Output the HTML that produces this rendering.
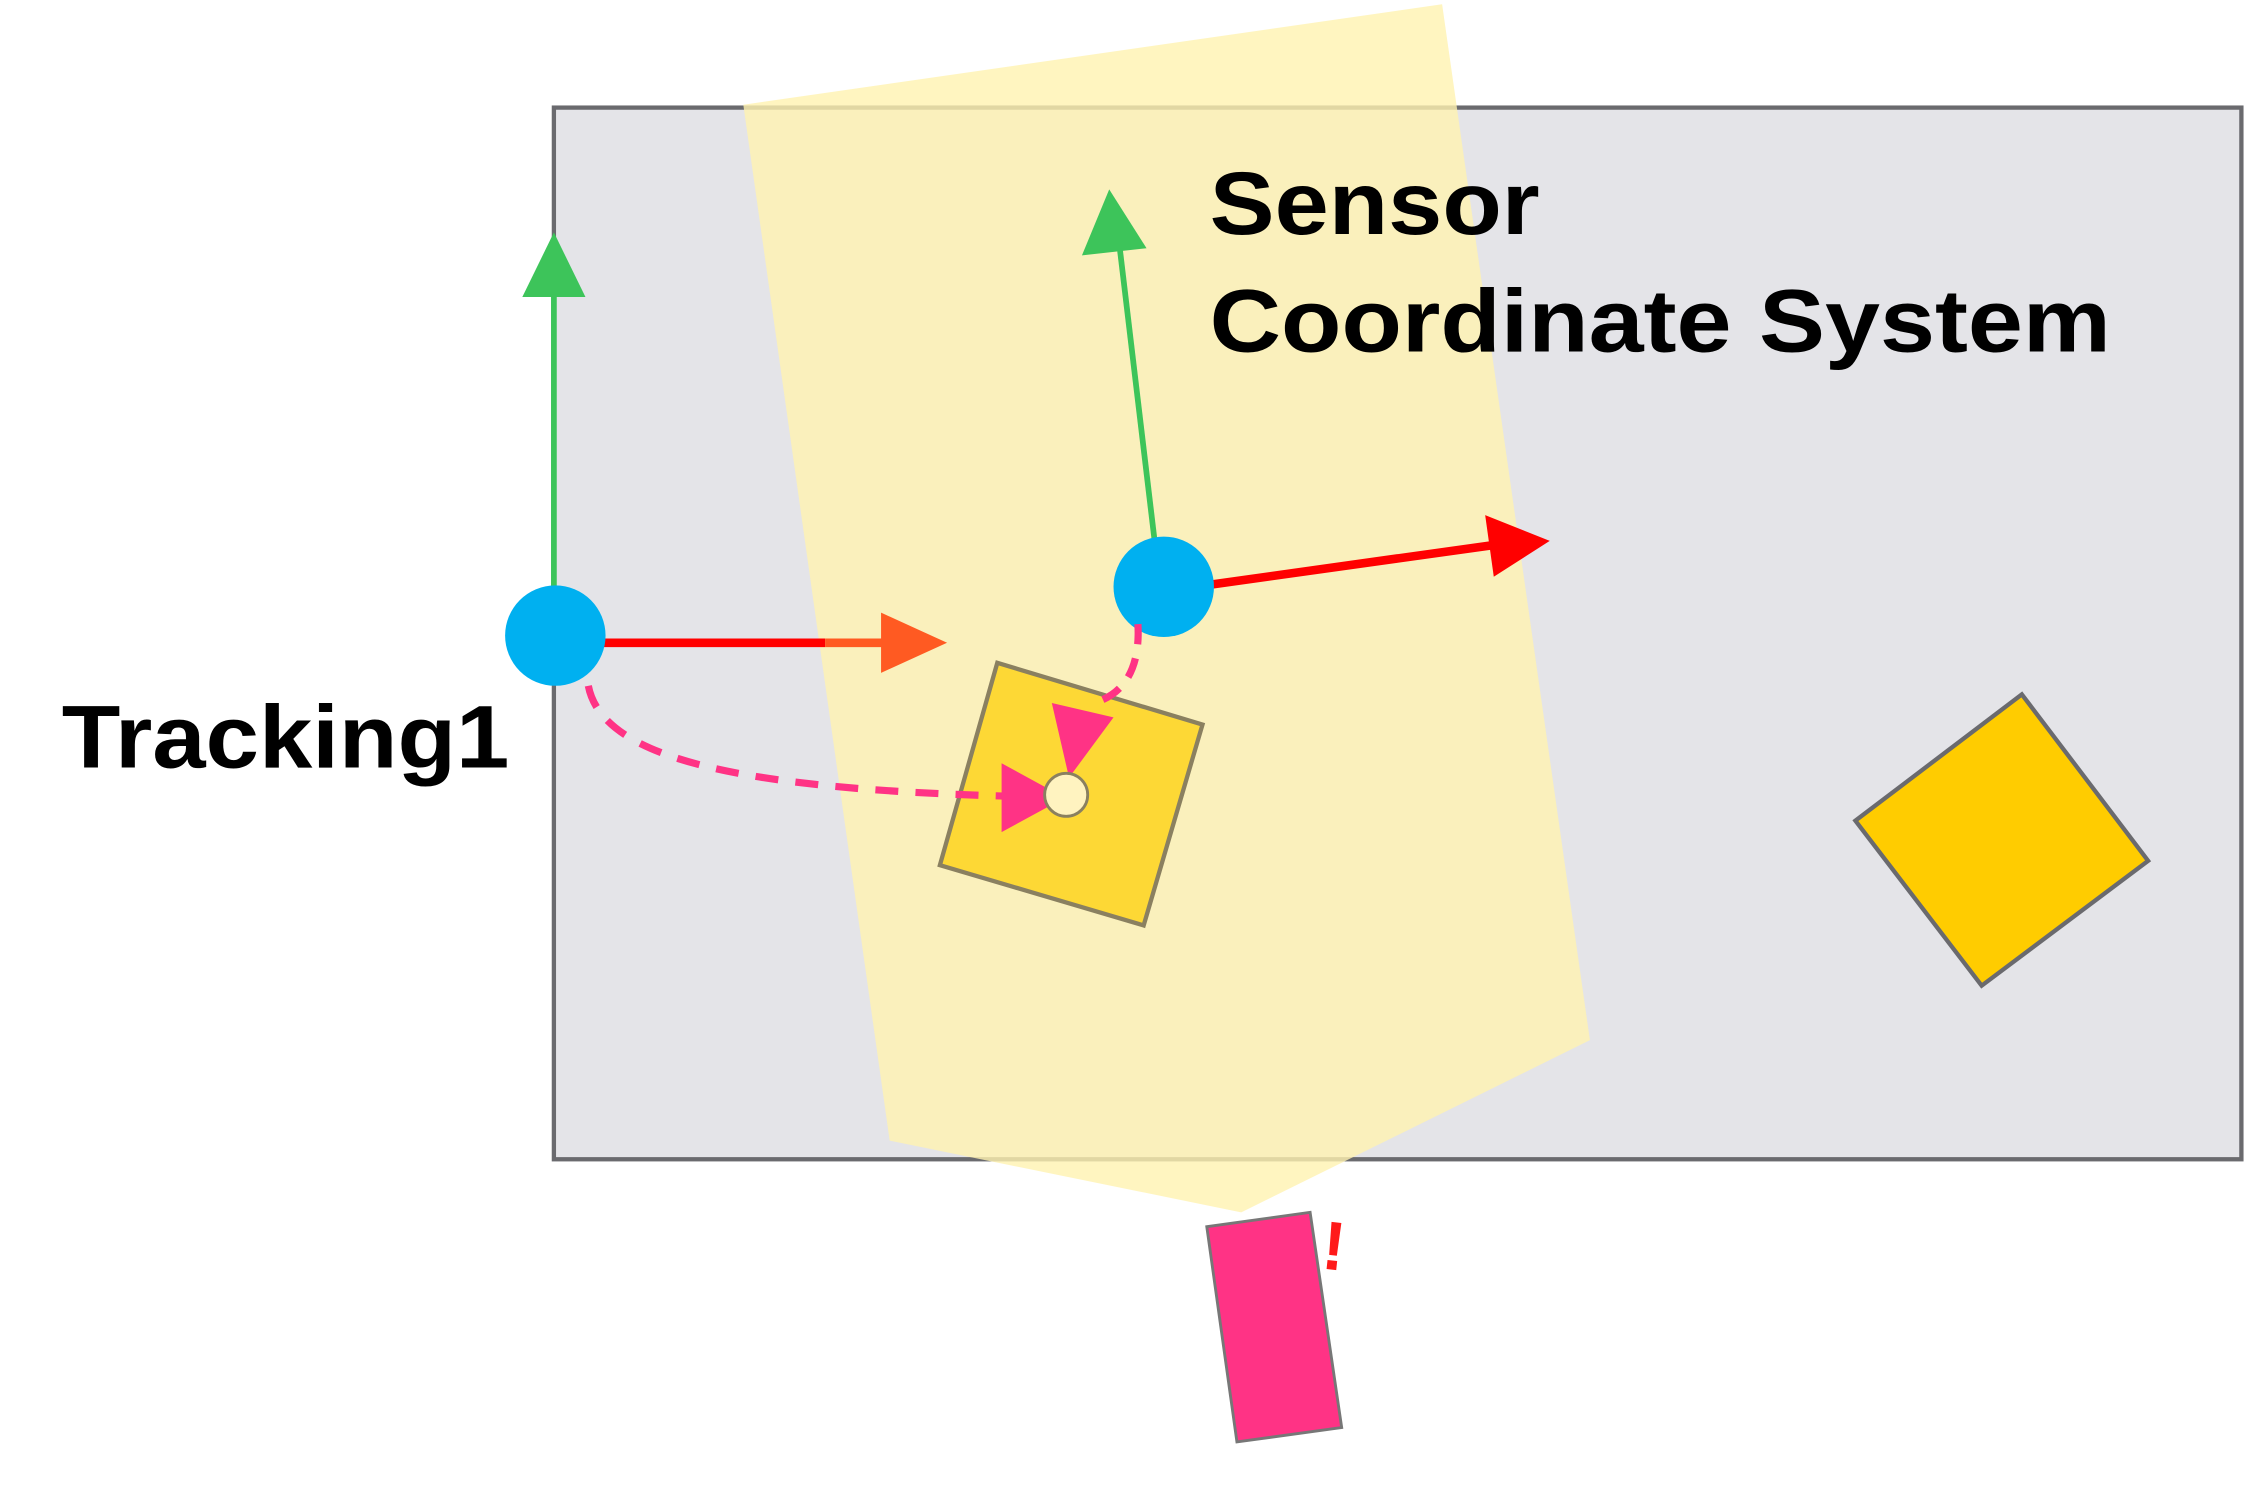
<!DOCTYPE html>
<html><head><style>html,body{margin:0;padding:0;background:#fff;}svg{display:block}</style></head>
<body>
<svg width="2250" height="1495" viewBox="0 0 1568 1042" preserveAspectRatio="none" xmlns="http://www.w3.org/2000/svg">
<rect x="386" y="75" width="1176" height="733" fill="#e4e4e8" stroke="#6a6a6e" stroke-width="3"/>
<polygon points="518,73 1005,3 1108,725 865,845 620,795" fill="#fff2b0" fill-opacity="0.8"/>
<!-- right diamond -->
<polygon points="1409,484 1497,600 1381,687 1293,572" fill="#ffcc00" stroke="#6a6a6e" stroke-width="3"/>
<!-- pink rect -->
<polygon points="841,855 913,845 935,995 862,1005" fill="#ff3385" stroke="#777" stroke-width="2"/>
<text x="922" y="885" font-family="Liberation Sans, sans-serif" font-size="48" font-weight="bold" fill="#ff1a1a" transform="rotate(6 930 865)">!</text>
<!-- left frame -->
<line x1="386" y1="410" x2="386" y2="200" stroke="#3dc45a" stroke-width="4"/>
<polygon points="364,207 386,162 408,207" fill="#3dc45a"/>
<line x1="420" y1="448" x2="575" y2="448" stroke="#ff0000" stroke-width="6"/>
<line x1="575" y1="448" x2="620" y2="448" stroke="#ff5a22" stroke-width="6"/>
<polygon points="614,427 660,448 614,469" fill="#ff5a22"/>
<circle cx="387" cy="443" r="35" fill="#00b0f0"/>
<!-- sensor frame -->
<line x1="805" y1="380" x2="780" y2="170" stroke="#3dc45a" stroke-width="4"/>
<polygon points="754,178 773,132 799,173" fill="#3dc45a"/>
<line x1="840" y1="408" x2="1040" y2="380" stroke="#ff0000" stroke-width="6"/>
<polygon points="1035,359 1080,377 1041,402" fill="#ff0000"/>
<!-- square -->
<polygon points="695,462 838,505 797,645 655,603" fill="#fdd835" stroke="#8a8060" stroke-width="3"/>
<circle cx="811" cy="409" r="35" fill="#00b0f0"/>
<path d="M410,478 C420,530 520,550 705,555" fill="none" stroke="#ff3385" stroke-width="5" stroke-dasharray="16,12"/>
<polygon points="698,532 742,556 698,580" fill="#ff3385"/>
<path d="M793,435 C795,470 780,485 762,490" fill="none" stroke="#ff3385" stroke-width="5" stroke-dasharray="14,10"/>
<polygon points="733,490 776,500 745,542" fill="#ff3385"/>
<circle cx="743" cy="554" r="15" fill="#fff3c0" stroke="#8a8060" stroke-width="2"/>
<g font-family="Liberation Sans, sans-serif" font-weight="bold" fill="#000">
<text x="843" y="163" font-size="62" textLength="230" lengthAdjust="spacingAndGlyphs">Sensor</text>
<text x="843" y="245" font-size="62" textLength="628" lengthAdjust="spacingAndGlyphs">Coordinate System</text>
<text x="43" y="535" font-size="62" textLength="312" lengthAdjust="spacingAndGlyphs">Tracking1</text>
</g>
</svg>
</body></html>
